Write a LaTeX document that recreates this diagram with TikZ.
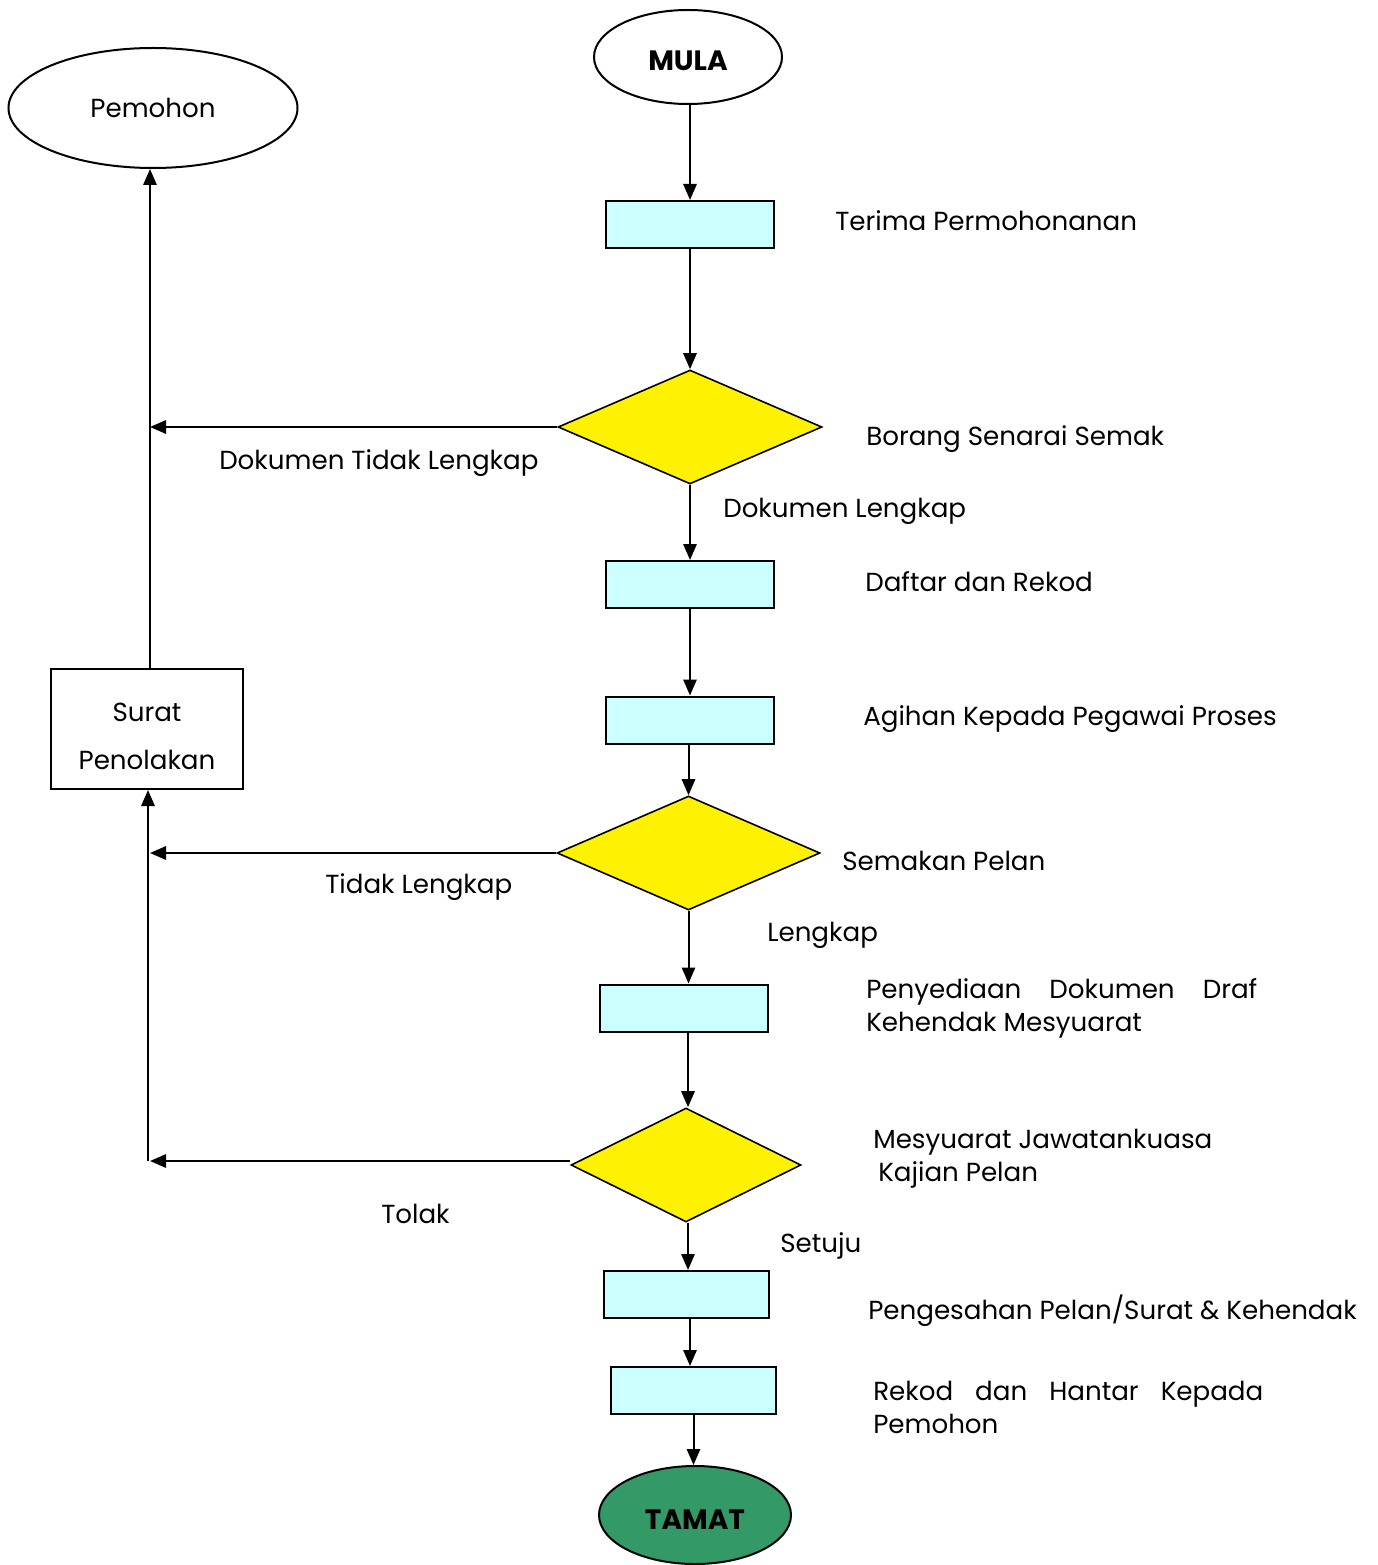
\documentclass[tikz,border=0pt]{standalone}
\usepackage{fontspec}
\setmainfont{Poppins}
\usetikzlibrary{shapes.geometric,arrows.meta}
\newdimen\px \px=0.75pt
\tikzset{
  every node/.style={font=\fontsize{19.6}{24.75}\selectfont},
  line/.style={line width=1.5pt},
  arr/.style={line width=1.5pt,-{Triangle[length=12pt,width=10pt]}},
  procbox/.style={draw,line width=1.5pt,fill=boxcyan,minimum width=168\px,minimum height=47\px,inner sep=0pt},
  decide/.style={draw,line width=1.2pt,fill=yellow,diamond,inner sep=0pt,minimum height=114\px},
  term/.style={draw,line width=1.5pt,ellipse,inner sep=0pt},
  lbl/.style={anchor=west,inner sep=0pt,align=left}
}
\definecolor{boxcyan}{RGB}{204,255,255}
\definecolor{endgreen}{RGB}{51,153,102}
\begin{document}
\begin{tikzpicture}[x=0.75pt,y=-0.75pt]
\useasboundingbox (0,0) rectangle (1377,1565);
% terminals
\node[term,minimum width=188\px,minimum height=94\px,font=\fontsize{21}{24}\selectfont\bfseries] (mula) at (688,57) {\raisebox{-14\px}[0pt][0pt]{MULA}};
\node[term,minimum width=289\px,minimum height=120\px] (pemohon) at (153,108) {Pemohon};
\node[term,fill=endgreen,minimum width=192\px,minimum height=98\px,font=\fontsize{21}{24}\selectfont\bfseries] (tamat) at (695,1515) {\raisebox{-14\px}[0pt][0pt]{TAMAT}};
% process boxes
\node[procbox] (b1) at (690,224.5) {};
\node[decide,minimum width=264\px] (d1) at (690,427) {};
\node[procbox] (b2) at (690,584.5) {};
\node[procbox] (b3) at (690,720) {};
\node[decide,minimum width=263\px] (d2) at (688.5,853) {};
\node[procbox] (b4) at (684,1008) {};
\node[decide,minimum width=230\px] (d3) at (686,1165) {};
\node[procbox,minimum width=165\px] (b5) at (686.5,1294.5) {};
\node[procbox,minimum width=165\px] (b6) at (693.5,1390.5) {};
\node[draw,line width=1.5pt,minimum width=192\px,minimum height=120\px,inner sep=0pt,font=\fontsize{19.6}{36}\selectfont] (surat) at (147,729) {\raisebox{-14\px}[0pt][0pt]{\begin{tabular}[c]{@{}c@{}}Surat\\Penolakan\end{tabular}}};
% junction coordinates
\coordinate (j1) at (150,427);
\coordinate (j2) at (150,853);
\coordinate (j3) at (150,1161);
\coordinate (j3b) at (148,1161);
\coordinate (c4) at (688,0);
\coordinate (c5) at (688,0);
\coordinate (c6) at (690,0);
% main flow
\draw[arr] (mula.south -| b1.north) -- (b1.north);
\draw[arr] (b1.south) -- (d1.north);
\draw[arr] (d1.south) -- (d1.south |- b2.north);
\draw[arr] (b2.south) -- (b3.north);
\draw[arr] (b3.south -| d2.north) -- (d2.north);
\draw[arr] (d2.south) -- (d2.south |- b4.north);
\draw[arr] (b4.south -| c4) -- (c4 |- d3.north);
\draw[arr] (d3.south -| c5) -- (c5 |- b5.north);
\draw[arr] (b5.south -| c6) -- (c6 |- b6.north);
\draw[arr] (b6.south) -- (b6.south |- tamat.north);
% rejection paths
\draw[arr] (d1.west) -- (j1);
\draw[arr] (d2.west) -- (j2);
\draw[arr] (j3 -| d3.west) -- (j3);
\draw[arr] (j3b) -- (j3b |- surat.south);
\draw[arr] (surat.north -| j1) -- (j1 |- pemohon.south);
% labels
\node[lbl] (t1) at (835,221) {Terima Permohonanan};
\node[lbl] (t2) at (866,439) {Borang Senarai Semak};
\node[lbl] (t3) at (219,463) {Dokumen Tidak Lengkap};
\node[lbl] (t4) at (723,511) {Dokumen Lengkap};
\node[lbl] (t5) at (865,582) {Daftar dan Rekod};
\node[lbl] (t6) at (863,719) {Agihan Kepada Pegawai Proses};
\node[lbl] (t7) at (842,861) {Semakan Pelan};
\node[lbl] (t8) at (325,887) {Tidak Lengkap};
\node[lbl] (t9) at (767,935) {Lengkap};
\node[lbl] (t10) at (866,1008) {\makebox[391\px][s]{Penyediaan Dokumen Draf}\\Kehendak Mesyuarat};
\node[lbl] (t11) at (873,1159) {Mesyuarat Jawatankuasa\\\hspace*{5\px}Kajian Pelan};
\node[lbl] (t12) at (381,1214) {Tolak};
\node[lbl] (t13) at (780,1246) {Setuju};
\node[lbl] (t14) at (868,1311) {Pengesahan Pelan/Surat \& Kehendak};
\node[lbl] (t15) at (873,1407) {\makebox[390\px][s]{Rekod dan Hantar Kepada}\\Pemohon};
\end{tikzpicture}
\end{document}
